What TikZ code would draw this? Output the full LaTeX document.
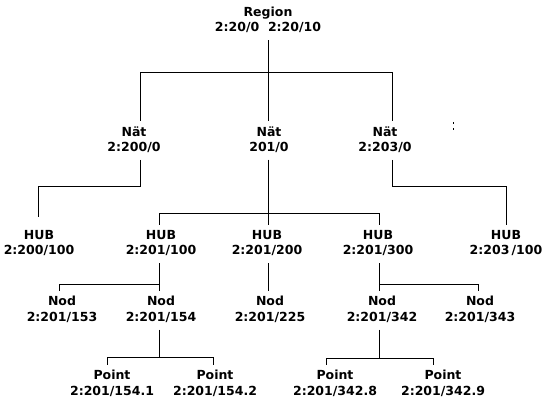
\documentclass[tikz,border=0pt]{standalone}
\usepackage{fontspec}
\setmainfont{DejaVu Sans}
\begin{document}
\begin{tikzpicture}[x=1pt, y=-1pt,
    lbl/.style={font=\fontsize{12.5}{15.5}\selectfont\bfseries, align=center, inner sep=0pt},
    wire/.style={black, line width=0.8pt, shorten <=7pt, shorten >=5pt}]
    \useasboundingbox (0,0) rectangle (552,409);

    % Region and nets
    \node[lbl] (reg) at (268,20) {Region\\2:20/0\hspace{0.7em}2:20/10};
    \node[lbl] (nat1) at (134,139.5) {Nät\\2:200/0};
    \node[lbl] (nat2) at (269,139.5) {Nät\\201/0};
    \node[lbl] (nat3) at (385,139.5) {Nät\\2:203/0};

    % Hubs
    \node[lbl] (hub1) at (39,243) {HUB\\2:200/100};
    \node[lbl] (hub2) at (161,243) {HUB\\2:201/100};
    \node[lbl] (hub3) at (267,243) {HUB\\2:201/200};
    \node[lbl] (hub4) at (378,243) {HUB\\2:201/300};
    \node[lbl] (hub5) at (506,243) {HUB\\2:203\,/100};

    % Nodes
    \node[lbl] (nod1) at (62,309.5) {Nod\\2:201/153};
    \node[lbl] (nod2) at (161,309.5) {Nod\\2:201/154};
    \node[lbl] (nod3) at (270,309.5) {Nod\\2:201/225};
    \node[lbl] (nod4) at (382,309.5) {Nod\\2:201/342};
    \node[lbl] (nod5) at (480,309.5) {Nod\\2:201/343};

    % Points
    \node[lbl] (pt1) at (112,383.5) {Point\\2:201/154.1};
    \node[lbl] (pt2) at (215,383.5) {Point\\2:201/154.2};
    \node[lbl] (pt3) at (335,383.5) {Point\\2:201/342.8};
    \node[lbl] (pt4) at (443,383.5) {Point\\2:201/342.9};

    % Region to nets
    \draw[wire] (reg.south) |- (140,72) -- ([xshift=6pt]nat1.north);
    \draw[wire] (reg.south) -- ([xshift=-1pt]nat2.north);
    \draw[wire] (reg.south) |- (392,72) -- ([xshift=7pt]nat3.north);

    % Nets to hubs
    \draw[wire, shorten >=13pt] ([xshift=6pt]nat1.south) |- (38,186) -- ([xshift=-1pt]hub1.north);
    \draw[wire] ([xshift=-1pt]nat2.south) |- (159,213) -- ([xshift=-2pt]hub2.north);
    \draw[wire] ([xshift=-1pt]nat2.south) -- ([xshift=1pt]hub3.north);
    \draw[wire] ([xshift=-1pt]nat2.south) |- (379,213) -- ([xshift=1pt]hub4.north);
    \draw[wire] ([xshift=7pt]nat3.south) |- (506,186) -- (hub5.north);

    % Hubs to nodes
    \draw[wire] ([xshift=-2pt]hub2.south) |- (59,284) -- ([xshift=-3pt]nod1.north);
    \draw[wire] ([xshift=-2pt]hub2.south) -- ([xshift=-2pt]nod2.north);
    \draw[wire] ([xshift=1pt]hub3.south) -- ([xshift=-2pt]nod3.north);
    \draw[wire] ([xshift=1pt]hub4.south) -- ([xshift=-3pt]nod4.north);
    \draw[wire] ([xshift=1pt]hub4.south) |- (478,284) -- ([xshift=-2pt]nod5.north);

    % Nodes to points
    \draw[wire] ([xshift=-2pt]nod2.south) |- (107,357) -- ([xshift=-5pt]pt1.north);
    \draw[wire] ([xshift=-2pt]nod2.south) |- (213,357) -- ([xshift=-2pt]pt2.north);
    \draw[wire] ([xshift=-3pt]nod4.south) |- (326,358) -- ([xshift=-9pt]pt3.north);
    \draw[wire] ([xshift=-3pt]nod4.south) |- (433,358) -- ([xshift=-10pt]pt4.north);

    % stray mark
    \fill (452.5,122.5) rectangle ++(1.2,1.2);
    \fill (452.5,128.5) rectangle ++(1.2,1.2);
\end{tikzpicture}
\end{document}
